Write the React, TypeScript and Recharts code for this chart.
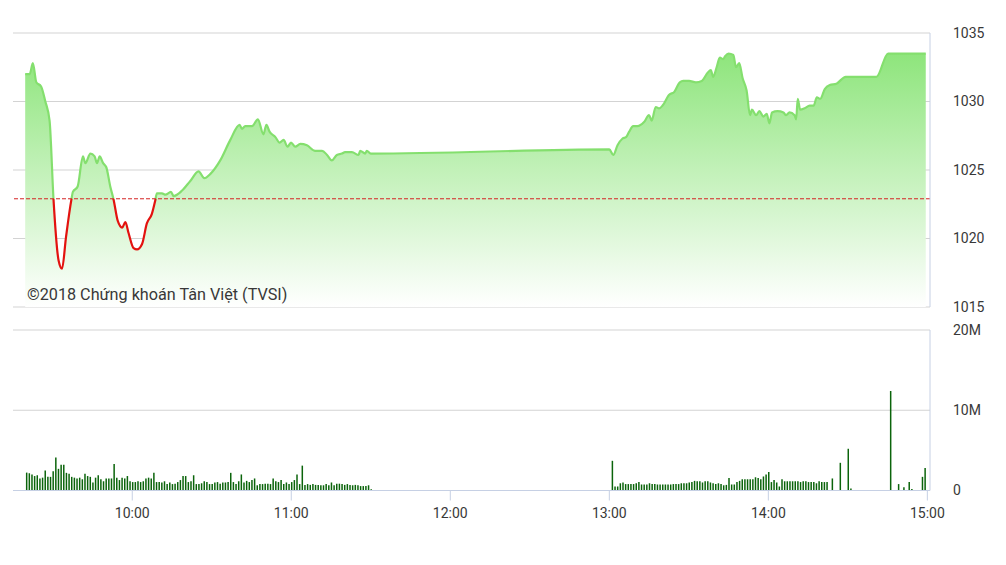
import React from "react";
import {
  ComposedChart,
  Area,
  Bar,
  XAxis,
  YAxis,
  CartesianGrid,
  ReferenceLine,
} from "recharts";

// times are minutes after midnight (9:15 = 555, 15:00 = 900)
const REF_PRICE = 1022.9;

const priceTimes = [
  559.6, 561.3, 562.5, 563.8, 565.6, 567.2, 568.8, 570.3, 572.2, 573.5, 575.0, 577.0, 577.6,
  579.4, 581.4, 582.3, 584.2, 585.8, 586.7, 587.7, 589.0, 590.2, 591.7, 593.0, 594.5, 596.2,
  597.4, 598.6, 600.5, 601.8, 603.7, 605.5, 607.4, 608.7, 609.3, 611.2, 612.5, 614.6, 615.6,
  618.8, 621.9, 625.0, 627.2, 629.4, 633.2, 637.0, 640.5, 641.4, 642.6, 645.2, 647.4, 649.5,
  650.6, 651.8, 654.0, 655.6, 657.1, 658.6, 659.9, 661.5, 663.4, 665.9, 669.0, 671.6, 673.5,
  675.3, 677.2, 679.1, 680.3, 682.9, 685.4, 686.0, 687.9, 688.5, 690.0, 780.0, 781.5, 783.1,
  785.0, 786.3, 787.5, 789.0, 790.6, 793.1, 795.0, 796.0, 797.5, 798.8, 800.1, 802.6, 804.5,
  806.6, 807.9, 810.1, 812.7, 814.9, 817.1, 818.3, 819.2, 820.5, 821.7, 823.0, 823.7, 825.0,
  826.8, 827.8, 829.0, 830.3, 831.8, 833.1, 833.8, 835.4, 836.6, 838.1, 839.4, 840.4, 841.4,
  843.5, 845.7, 846.7, 848.0, 849.9, 850.5, 851.1, 852.0, 853.7, 855.6, 857.1, 858.3, 859.6,
  861.3, 863.2, 865.7, 869.2, 880.8, 885.2, 899.4,
];

const priceValues = [
  1032.0, 1032.0, 1032.8, 1031.4, 1031.1, 1030.0, 1028.6, 1022.8, 1018.4, 1017.8, 1020.1, 1022.8, 1023.4,
  1023.8, 1026.0, 1025.5, 1026.2, 1026.0, 1025.5, 1026.0, 1025.5, 1025.2, 1023.8, 1022.8, 1021.3, 1020.8,
  1021.2, 1020.4, 1019.3, 1019.2, 1019.6, 1021.1, 1021.8, 1022.8, 1023.3, 1023.3, 1023.2, 1023.4, 1023.1,
  1023.5, 1024.2, 1024.9, 1024.4, 1024.7, 1025.7, 1027.2, 1028.3, 1028.0, 1028.2, 1028.2, 1028.7, 1027.6,
  1028.3, 1027.8, 1027.4, 1027.0, 1027.2, 1026.7, 1027.0, 1026.7, 1026.9, 1026.8, 1026.4, 1026.4, 1026.1,
  1025.7, 1026.1, 1026.2, 1026.3, 1026.3, 1026.1, 1026.4, 1026.2, 1026.4, 1026.2, 1026.5, 1026.1, 1026.8,
  1027.3, 1027.4, 1027.8, 1028.2, 1028.2, 1028.5, 1029.0, 1028.6, 1029.6, 1029.5, 1029.7, 1030.5, 1030.7,
  1031.4, 1031.5, 1031.5, 1031.4, 1031.5, 1032.1, 1032.3, 1031.8, 1032.5, 1033.2, 1033.1, 1033.3, 1033.5,
  1033.4, 1032.5, 1032.8, 1031.7, 1030.8, 1029.0, 1029.4, 1029.0, 1029.3, 1028.9, 1029.1, 1028.4, 1029.2,
  1029.3, 1029.2, 1029.0, 1029.2, 1029.0, 1028.7, 1030.2, 1029.4, 1029.5, 1029.7, 1029.7, 1030.3, 1030.2,
  1030.9, 1031.2, 1031.3, 1031.8, 1031.8, 1033.5, 1033.5,
];

// volume in millions, one bar per minute
const morningStart = 560; // 9:20
const morningVolume = [
  2.23, 2.15, 2.0, 1.8, 1.9, 1.5, 1.6, 2.5, 1.7, 1.7, 2.4, 4.1, 2.7, 3.2, 3.2, 2.2, 2.1, 1.7, 1.6, 1.5,
  1.6, 1.4, 2.1, 1.8, 1.7, 1.0, 1.6, 1.9, 1.4, 1.15, 1.5, 1.5, 1.5, 3.3, 1.6, 1.3, 1.6, 1.5, 1.8, 1.15,
  1.05, 1.05, 1.15, 1.05, 1.15, 1.5, 1.6, 1.5, 2.2, 1.05, 1.05, 1.0, 1.15, 0.8, 1.0, 0.8, 0.85, 1.05, 1.3, 1.8,
  1.8, 1.05, 1.15, 1.9, 0.8, 0.8, 0.9, 1.15, 1.05, 0.8, 0.8, 1.0, 1.05, 0.85, 1.0, 1.0, 1.05, 2.2, 1.05, 0.8,
  1.15, 2.0, 1.0, 1.2, 1.05, 1.3, 1.5, 0.65, 0.8, 0.8, 0.85, 0.85, 0.8, 1.5, 1.15, 1.05, 1.3, 0.8, 1.0, 0.8,
  1.05, 1.3, 2.0, 0.8, 3.1, 0.7, 0.8, 0.7, 0.8, 0.7, 0.7, 0.65, 0.65, 0.8, 0.65, 1.0, 0.65, 0.85, 0.85, 0.8,
  0.7, 0.8, 0.7, 0.65, 0.7, 0.65, 0.55, 0.55, 0.55, 0.65, 0.15,
];

const afternoonStart = 781; // 13:01
const afternoonVolume = [
  3.7, 0.5, 0.5, 0.9, 1.0, 0.8, 0.8, 0.8, 0.8, 0.9, 1.05, 0.75, 0.75, 0.75, 0.9, 0.8, 0.8, 0.75, 0.75, 0.75,
  0.75, 0.75, 0.75, 0.8, 0.8, 0.8, 0.9, 0.9, 0.9, 1.0, 1.05, 1.2, 1.15, 1.15, 1.0, 1.15, 1.15, 1.0, 0.9, 0.8,
  0.9, 0.8, 0.65, 0.7, 1.55, 0.75, 0.75, 1.05, 1.2, 1.4, 1.4, 1.4, 1.4, 1.4, 1.65, 1.55, 1.4, 1.75, 2.0, 2.3,
  1.05, 1.3, 1.0, 0.5, 1.4, 1.15, 1.15, 1.15, 1.15, 1.15, 1.15, 1.05, 1.15, 1.15, 1.05, 1.05, 1.05, 0.9, 1.15, 1.05,
  1.05, 1.05,
];

const closeTimes = [864, 867, 870, 871, 881, 886, 889, 891, 893, 894, 898, 899];
const closeVolume = [1.5, 3.45, 5.2, 0.25, 0.05, 12.4, 0.8, 0.4, 1.05, 0.2, 1.7, 2.8];

const timeTicks = [600, 660, 720, 780, 840, 900];
const priceTicks = [1015, 1020, 1025, 1030, 1035];
const volumeTicks = [0, 10, 20];

const priceData = priceTimes.map((t, i) => ({ t, price: priceValues[i] }));
const volumeData = [
  ...morningVolume.map((v, i) => ({ t: morningStart + i, vol: v })),
  ...afternoonVolume.map((v, i) => ({ t: afternoonStart + i, vol: v })),
  ...closeTimes.map((t, i) => ({ t, vol: closeVolume[i] })),
];

const maxPrice = Math.max(...priceValues);
const minPrice = Math.min(...priceValues);
const splitOffset = (maxPrice - REF_PRICE) / (maxPrice - minPrice);

const fmtTime = (m: number) => `${Math.floor(m / 60)}:${String(m % 60).padStart(2, "0")}`;

const AXIS_COLOR = "#c6d0e4";
const GRID_COLOR = "#d3d3d3";
const TICK_STYLE = { fontSize: 14, fill: "#383838", fontFamily: "Roboto" };

const App = () => {
  return (
    <div
      style={{
        position: "absolute",
        left: 0,
        top: 0,
        width: 1006,
        height: 565,
        background: "#fff",
        fontFamily: "Roboto",
      }}
    >
      {/* Price chart */}
      <div style={{ position: "absolute", left: 0, top: 0 }}>
        <ComposedChart
          width={1006}
          height={320}
          data={priceData}
          margin={{ top: 33, right: 0, bottom: 13, left: 13 }}
        >
          <defs>
            <linearGradient id="priceFill" x1="0" y1="0" x2="0" y2="1">
              <stop offset="0%" stopColor="#8ee57c" />
              <stop offset="100%" stopColor="#ffffff" />
            </linearGradient>
            <linearGradient id="priceStroke" x1="0" y1="0" x2="0" y2="1">
              <stop offset={splitOffset} stopColor="#84df6e" />
              <stop offset={splitOffset} stopColor="#e3120f" />
            </linearGradient>
          </defs>
          <CartesianGrid vertical={false} stroke={GRID_COLOR} />
          <XAxis dataKey="t" type="number" domain={[555, 901]} hide />
          <YAxis
            orientation="right"
            width={76}
            domain={[1015, 1035]}
            ticks={priceTicks}
            interval={0}
            axisLine={{ stroke: AXIS_COLOR }}
            tickLine={false}
            tickSize={0}
            tickMargin={23}
            tick={TICK_STYLE}
          />
          <Area
            type="monotone"
            dataKey="price"
            baseValue="dataMin"
            stroke="url(#priceStroke)"
            strokeWidth={2.2}
            fill="url(#priceFill)"
            fillOpacity={1}
            isAnimationActive={false}
            dot={false}
            activeDot={false}
          />
          <ReferenceLine y={REF_PRICE} stroke="#d42323" strokeDasharray="4 2" strokeWidth={1} />
        </ComposedChart>
      </div>

      <div
        style={{
          position: "absolute",
          left: 27,
          top: 287,
          fontSize: 16.2,
          lineHeight: "16px",
          color: "#383838",
          fontFamily: "Roboto",
          whiteSpace: "nowrap",
        }}
      >
        ©2018 Chứng khoán Tân Việt (TVSI)
      </div>

      {/* Volume chart */}
      <div style={{ position: "absolute", left: 0, top: 320 }}>
        <ComposedChart
          width={1006}
          height={245}
          data={volumeData}
          margin={{ top: 10, right: 0, bottom: 44.5, left: 13 }}
        >
          <CartesianGrid vertical={false} stroke={GRID_COLOR} />
          <XAxis
            dataKey="t"
            type="number"
            domain={[555, 901]}
            ticks={timeTicks}
            interval={0}
            tickFormatter={fmtTime}
            height={30}
            axisLine={{ stroke: AXIS_COLOR }}
            tickLine={{ stroke: AXIS_COLOR }}
            tickSize={10}
            tickMargin={8}
            tick={TICK_STYLE}
          />
          <YAxis
            orientation="right"
            width={76}
            domain={[0, 20]}
            ticks={volumeTicks}
            interval={0}
            tickFormatter={(v: number) => (v === 0 ? "0" : `${v}M`)}
            axisLine={{ stroke: AXIS_COLOR }}
            tickLine={false}
            tickSize={0}
            tickMargin={23}
            tick={TICK_STYLE}
          />
          <Bar dataKey="vol" fill="#0b640b" barSize={1.5} isAnimationActive={false} />
        </ComposedChart>
      </div>
    </div>
  );
};

export default App;
